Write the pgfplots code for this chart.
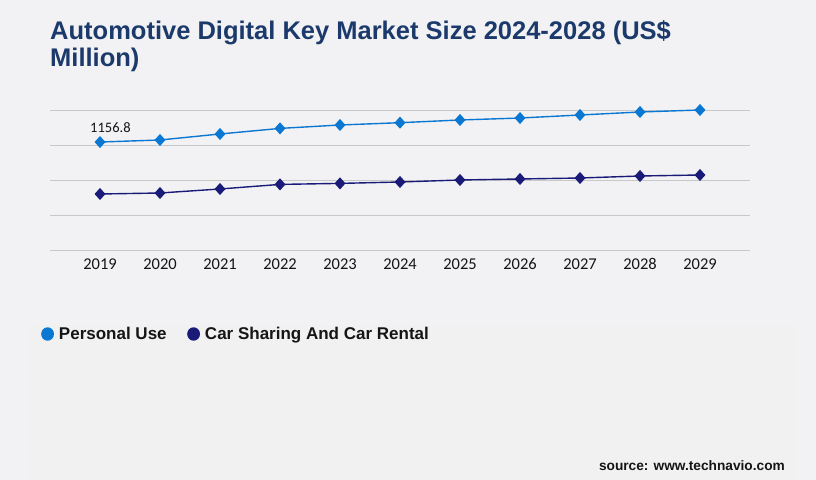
\documentclass[border=0pt]{standalone}
\usepackage{pgfplots}
\pgfplotsset{compat=1.18}
\usepackage{fontspec}
\setmainfont{Liberation Sans}
\newfontfamily\tickfont{Carlito}
\definecolor{bg}{HTML}{F2F2F4}
\definecolor{boxbg}{HTML}{F1F1F2}
\definecolor{titleblue}{HTML}{1B3A6B}
\definecolor{personal}{HTML}{0A78D2}
\definecolor{sharing}{HTML}{1A1A78}
\definecolor{gridgray}{HTML}{C8C8C8}
\definecolor{txt}{HTML}{151515}

\begin{document}
\begin{tikzpicture}
\fill[bg] (0,0) rectangle (816bp,480bp);
\fill[boxbg] (30bp,0) rectangle (795bp,155bp);
\node[anchor=base west, inner sep=0, text=titleblue,
  font=\fontsize{25.5bp}{27bp}\selectfont\bfseries] at (50bp,440.7bp)
  {Automotive Digital Key Market Size 2024-2028 (US\$};
\node[anchor=base west, inner sep=0, text=titleblue,
  font=\fontsize{25.5bp}{27bp}\selectfont\bfseries] at (50bp,413.3bp)
  {Million)};
\node[anchor=base east, inner sep=0, text=txt,
  font=\fontsize{13.7bp}{15bp}\selectfont\bfseries] at (785bp,10bp)
  {source: www.technavio.com};

\begin{axis}[
  at={(50bp,230bp)}, anchor=south west,
  width=700bp, height=140bp,
  scale only axis,
  clip=false,
  xmin=2018.1667, xmax=2029.8333,
  ymin=0, ymax=1500,
  axis line style={draw=none},
  tick style={draw=none},
  ytick={0,375,750,1125,1500},
  yticklabels={},
  ymajorgrids,
  grid style={gridgray, line width=0.8bp},
  xtick={2019,2020,2021,2022,2023,2024,2025,2026,2027,2028,2029},
  xticklabels={2019,2020,2021,2022,2023,2024,2025,2026,2027,2028,2029},
  xticklabel style={anchor=base, yshift=-19.3bp, text=txt,
    font=\tickfont\fontsize{16.5bp}{17bp}\selectfont},
  legend style={at={(-0.0129,-0.6)}, anchor=west, draw=none, fill=none,
    legend columns=2, inner sep=0pt,
    font=\fontsize{17bp}{19bp}\selectfont\bfseries,
    nodes={inner sep=0.5bp, text=txt},
    /tikz/every odd column/.append style={column sep=4.5bp},
    /tikz/every even column/.append style={column sep=20bp}},
  legend image code/.code={\fill[#1] (0bp,0bp) ellipse (5.7bp and 6bp);},
]
\addplot[personal, line width=1.4bp, mark=diamond*, mark size=5bp,
  mark options={fill=personal, draw=personal, xscale=1.2}] coordinates {
  (2019,1156.8) (2020,1178.6) (2021,1242.9) (2022,1302.9) (2023,1339.3)
  (2024,1363.9) (2025,1392.9) (2026,1414.1) (2027,1446.4) (2028,1478.6)
  (2029,1500.0)
};
\addlegendentry{Personal Use}
\addplot[sharing, line width=1.4bp, mark=diamond*, mark size=5bp,
  mark options={fill=sharing, draw=sharing, xscale=1.2}] coordinates {
  (2019,600.0) (2020,610.7) (2021,653.6) (2022,702.8) (2023,713.6)
  (2024,728.6) (2025,750.0) (2026,760.9) (2027,771.4) (2028,792.9)
  (2029,803.6)
};
\addlegendentry{Car Sharing And Car Rental}
\node[anchor=base west, inner sep=0, text=txt,
  font=\tickfont\fontsize{14.5bp}{15bp}\selectfont]
  at (axis cs:2019,1156.8) [xshift=-10bp, yshift=10bp] {1156.8};
\end{axis}
\end{tikzpicture}
\end{document}
